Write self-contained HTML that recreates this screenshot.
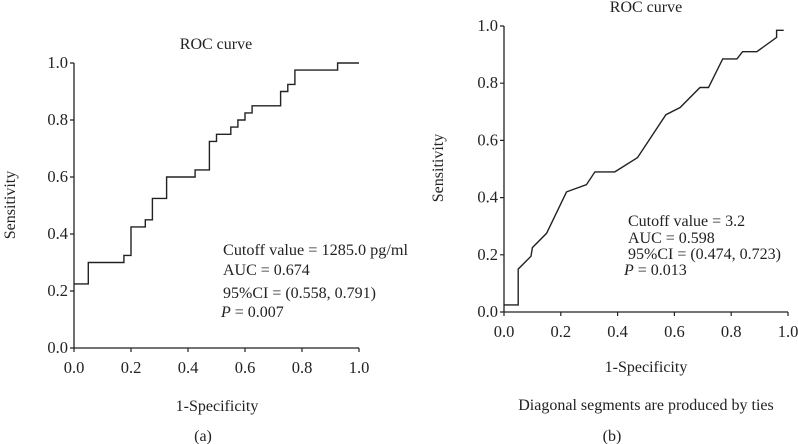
<!DOCTYPE html>
<html><head><meta charset="utf-8"><style>
html,body{margin:0;padding:0;background:#fff}
svg{display:block;font-family:"Liberation Serif",serif;fill:#222}
</style></head><body>
<svg id="s" width="798" height="444" viewBox="0 0 798 444">
<g font-size="16" text-anchor="middle">
<text x="216" y="49">ROC curve</text>
<text x="217" y="411">1-Specificity</text>
<text x="203" y="441">(a)</text>
<text transform="translate(15,205) rotate(-90)">Sensitivity</text>
<text x="646" y="12">ROC curve</text>
<text x="646" y="372">1-Specificity</text>
<text x="646" y="410">Diagonal segments are produced by ties</text>
<text x="612" y="441">(b)</text>
<text transform="translate(443,168) rotate(-90)">Sensitivity</text>
</g>
<g font-size="16">
<text x="223" y="255" textLength="185" lengthAdjust="spacingAndGlyphs">Cutoff value = 1285.0 pg/ml</text>
<text x="223" y="275">AUC = 0.674</text>
<text x="223" y="298">95%CI = (0.558, 0.791)</text>
<text x="221" y="317"><tspan font-style="italic">P</tspan> = 0.007</text>
</g>
<g font-size="16">
<text x="628" y="226">Cutoff value = 3.2</text>
<text x="628" y="243">AUC = 0.598</text>
<text x="628" y="259">95%CI = (0.474, 0.723)</text>
<text x="624" y="275"><tspan font-style="italic">P</tspan> = 0.013</text>
</g>
</svg>
<script>
const ticks=[0,0.2,0.4,0.6,0.8,1.0];
const tickLabels=["0.0","0.2","0.4","0.6","0.8","1.0"];
const fprA=[0,0.05,0.05,0.175,0.175,0.2,0.2,0.25,0.25,0.275,0.275,0.325,0.325,0.425,0.425,0.475,0.475,0.5,0.5,0.55,0.55,0.575,0.575,0.6,0.6,0.625,0.625,0.725,0.725,0.75,0.75,0.775,0.775,0.925,0.925,1];
const tprA=[0.225,0.225,0.3,0.3,0.325,0.325,0.425,0.425,0.45,0.45,0.525,0.525,0.6,0.6,0.625,0.625,0.725,0.725,0.75,0.75,0.775,0.775,0.8,0.8,0.825,0.825,0.85,0.85,0.9,0.9,0.925,0.925,0.975,0.975,1,1];
const fprB=[0,0.05,0.05,0.095,0.1,0.15,0.22,0.29,0.32,0.39,0.47,0.57,0.62,0.69,0.72,0.77,0.82,0.84,0.89,0.96,0.96,0.985];
const tprB=[0.025,0.025,0.15,0.195,0.225,0.275,0.42,0.445,0.49,0.49,0.54,0.69,0.715,0.785,0.785,0.885,0.885,0.91,0.91,0.96,0.985,0.985];
const NS="http://www.w3.org/2000/svg";
const svg=document.getElementById('s');
function mk(t,a){const e=document.createElementNS(NS,t);for(const k in a)e.setAttribute(k,a[k]);svg.appendChild(e);return e;}
function chart(id,x0,x1,y0,y1,fpr,tpr){
  const sx=v=>x0+(x1-x0)*v, sy=v=>y0-(y0-y1)*v;
  const ax=mk('path',{d:`M${x0} ${y1}V${y0}H${x1}`,fill:'none',stroke:'#222','stroke-width':1.3});
  
  
  ticks.forEach((t,i)=>{
    const tk=mk('path',{d:`M${x0-4} ${sy(t)}H${x0}M${sx(t)} ${y0}V${y0+4}`,stroke:'#222','stroke-width':1.2});
    
    
    const yl=mk('text',{x:x0-6,y:sy(t)+5,'text-anchor':'end','font-size':16.5});
    yl.textContent=tickLabels[i];
    
    
    const xl=mk('text',{x:sx(t),y:y0+25,'text-anchor':'middle','font-size':16.5});
    xl.textContent=tickLabels[i];
    
    
  });
  const d=fpr.map((v,i)=>(i?'L':'M')+sx(v).toFixed(1)+' '+sy(tpr[i]).toFixed(1)).join('');
  const ln=mk('path',{d,fill:'none',stroke:'#222','stroke-width':1.4});
  
  
}
chart('chart-a',74,359,348,63,fprA,tprA);
chart('chart-b',504,788,312,26,fprB,tprB);
</script>
</body></html>
